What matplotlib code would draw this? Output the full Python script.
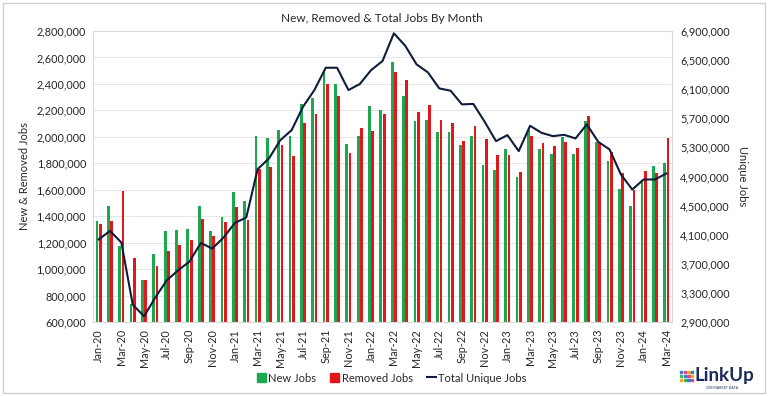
import matplotlib.pyplot as plt
from matplotlib.patches import Rectangle
from matplotlib.lines import Line2D
from matplotlib.ticker import FuncFormatter
import numpy as np

plt.rcParams['font.family'] = ['Lato', 'DejaVu Sans']

meses = ['Jan-20', 'Feb-20', 'Mar-20', 'Apr-20', 'May-20', 'Jun-20', 'Jul-20', 'Aug-20',
         'Sep-20', 'Oct-20', 'Nov-20', 'Dec-20', 'Jan-21', 'Feb-21', 'Mar-21', 'Apr-21',
         'May-21', 'Jun-21', 'Jul-21', 'Aug-21', 'Sep-21', 'Oct-21', 'Nov-21', 'Dec-21',
         'Jan-22', 'Feb-22', 'Mar-22', 'Apr-22', 'May-22', 'Jun-22', 'Jul-22', 'Aug-22',
         'Sep-22', 'Oct-22', 'Nov-22', 'Dec-22', 'Jan-23', 'Feb-23', 'Mar-23', 'Apr-23',
         'May-23', 'Jun-23', 'Jul-23', 'Aug-23', 'Sep-23', 'Oct-23', 'Nov-23', 'Dec-23',
         'Jan-24', 'Feb-24', 'Mar-24']

# en miles
nuevos = [1361, 1474, 1177, 735, 916, 1117, 1290, 1298, 1305, 1479, 1285, 1391,
          1584, 1512, 2004, 1988, 2055, 2009, 2248, 2294, 2495, 2397, 1944, 2004,
          2234, 2206, 2566, 2309, 2123, 2128, 2035, 2035, 1941, 2007, 1784, 1751,
          1907, 1698, 2053, 1910, 1869, 1997, 1872, 2116, 1960, 1819, 1607, 1474,
          1668, 1781, 1799]

removidos = [1343, 1362, 1587, 1084, 916, 1027, 1134, 1185, 1222, 1381, 1248, 1355,
             1467, 1371, 1758, 1770, 1935, 1857, 2105, 2174, 2402, 2309, 1881, 2067,
             2042, 2171, 2490, 2433, 2188, 2243, 2130, 2105, 1965, 2085, 1985, 1864,
             1864, 1731, 2007, 1957, 1927, 1960, 1919, 2161, 1952, 1889, 1726, 1600,
             1738, 1726, 1990]

unicos = [4035, 4152, 3992, 3139, 2978, 3240, 3473, 3611, 3730, 3987, 3909, 4061,
          4262, 4336, 5001, 5148, 5400, 5538, 5859, 6088, 6395, 6395, 6088, 6171,
          6363, 6487, 6868, 6698, 6441, 6331, 6111, 6079, 5891, 5898, 5652, 5386,
          5469, 5249, 5597, 5501, 5455, 5473, 5423, 5616, 5377, 5272, 4928, 4721,
          4859, 4859, 4941]

verde = '#1ba84e'
rojo = '#e3161b'
azul = '#0f1c3a'
gris_txt = '#262626'

x = np.arange(len(meses))
nuevos = np.array(nuevos) * 1000
removidos = np.array(removidos) * 1000
unicos = np.array(unicos) * 1000

fig = plt.figure(figsize=(7.68, 3.96), dpi=100)
ax = fig.add_axes([93/768, 1 - 322/396, (672 - 93)/768, (322 - 31)/396])

ancho = 0.24
ax.bar(x - 0.145, nuevos, width=ancho, color=verde, zorder=2)
ax.bar(x + 0.145, removidos, width=ancho, color=rojo, zorder=2)

ax.set_xlim(-0.5, len(meses) - 0.5)
ax.set_ylim(600000, 2800000)
ax.set_yticks(np.arange(600000, 2800001, 200000))
ax.yaxis.set_major_formatter(FuncFormatter(lambda v, p: f'{int(v):,}'))
ax.grid(axis='y', color='#e6e6e6', linewidth=0.7, zorder=0)
ax.set_axisbelow(True)
ax.set_xticks(x[::2])
ax.set_xticklabels(meses[::2], rotation=90)
ax.tick_params(axis='both', length=0, labelsize=7.8, colors=gris_txt, pad=5)
ax.set_ylabel('New & Removed Jobs', fontsize=8, color=gris_txt, labelpad=5)
for s in ax.spines.values():
    s.set_color('#d9d9d9')
    s.set_linewidth(0.8)

ax2 = ax.twinx()
ax2.plot(x, unicos, color=azul, linewidth=1.5, zorder=3)
ax2.set_ylim(2900000, 6900000)
ax2.set_yticks(np.arange(2900000, 6900001, 400000))
ax2.yaxis.set_major_formatter(FuncFormatter(lambda v, p: f'{int(v):,}'))
ax2.tick_params(axis='y', length=0, labelsize=7.8, colors=gris_txt, pad=6)
ax2.set_ylabel('Unique Jobs', fontsize=8, color=gris_txt, rotation=270, labelpad=13)
for s in ax2.spines.values():
    s.set_visible(False)

fig.text(0.497, 1 - 18/396, 'New, Removed & Total Jobs By Month', ha='center', va='center',
         fontsize=8.5, color=gris_txt)

manejadores = [Rectangle((0, 0), 1, 1, color=verde),
               Rectangle((0, 0), 1, 1, color=rojo),
               Line2D([0], [0], color=azul, linewidth=1.5)]
fig.legend(manejadores, ['New Jobs', 'Removed Jobs', 'Total Unique Jobs'],
           loc='center', bbox_to_anchor=(0.51, 1 - 378/396), ncol=3, frameon=False,
           fontsize=8, handlelength=0.8, handleheight=0.8, handletextpad=0.2,
           columnspacing=1.3, labelcolor=gris_txt)

# borde de la figura
fig.patches.append(Rectangle((3/768, 3/396), 762/768, 390/396, transform=fig.transFigure,
                             fill=False, edgecolor='#d0d0d0', linewidth=1.0))

# logo LinkUp
colores_puntos = [['#2a7de1', '#e8417e', '#f5a623', '#2a7de1'],
                  ['#45b649', '#2a7de1', '#e8417e', '#f5a623'],
                  ['#f5a623', '#45b649', '#2a7de1', '#e8417e']]
for i, fila in enumerate(colores_puntos):
    for j, c in enumerate(fila):
        fig.patches.append(Rectangle(((680 + j*3.7)/768, 1 - (373 + i*4.2)/396), 2.1/768, 2.1/396,
                                     transform=fig.transFigure, color=c))
fig.text(695/768, 1 - 376/396, 'LinkUp', ha='left', va='center', fontsize=13.5,
         fontweight='bold', color='#1b2a5c')
fig.text(722/768, 1 - 388/396, 'JOB MARKET DATA', ha='center', va='center', fontsize=2.5,
         color='#1b2a5c')

fig.savefig('out.png', dpi=100)
